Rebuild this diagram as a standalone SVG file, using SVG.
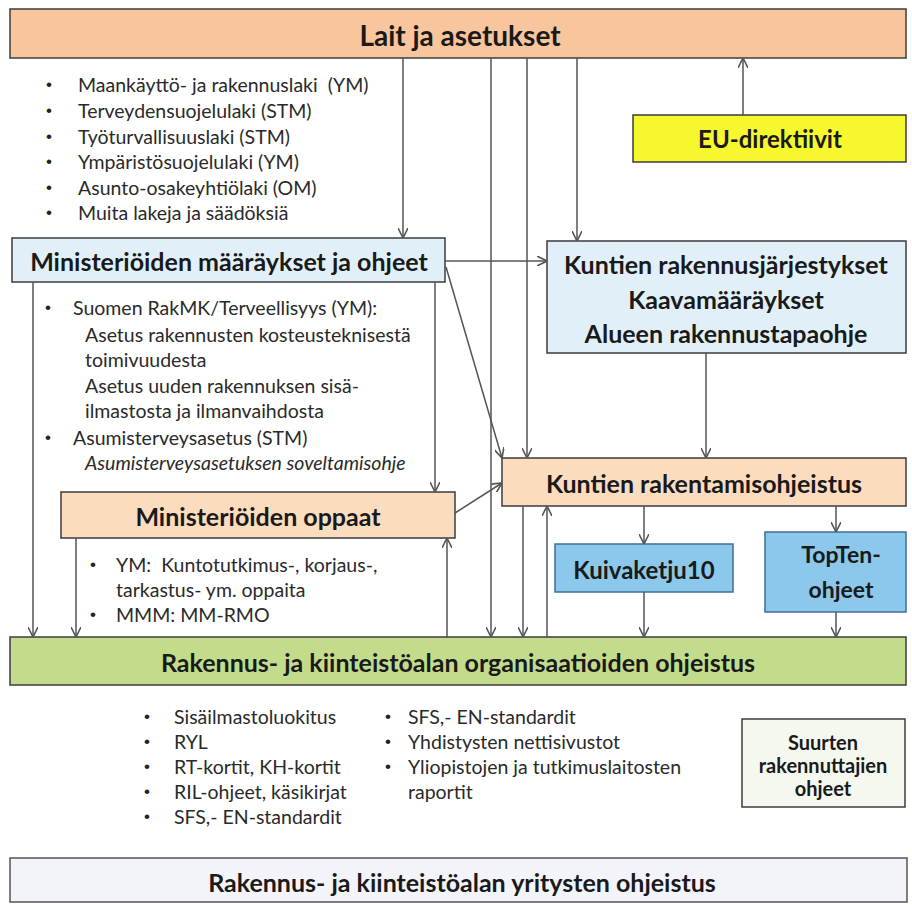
<svg xmlns="http://www.w3.org/2000/svg" width="912" height="905" viewBox="0 0 912 905">
<defs>
<marker id="arr" viewBox="0 0 10 10" refX="10" refY="5" markerWidth="10" markerHeight="10" markerUnits="userSpaceOnUse" orient="auto">
<path d="M0,0 L10,5 L0,10" fill="none" stroke="#555" stroke-width="1.6"/>
</marker>
<style>
.box{stroke:#3c3c3c;stroke-width:1.5}
.h{font-family:Lato,"Liberation Sans",sans-serif;font-weight:bold;fill:#1a1a1a;text-anchor:middle;dominant-baseline:central}
.t{font-family:Lato,"Liberation Sans",sans-serif;font-size:19.5px;fill:#2a2a2a;dominant-baseline:central}
.b{font-family:"Liberation Sans",sans-serif;font-size:17px;fill:#222;dominant-baseline:central}
.c{fill:none;stroke:#555;stroke-width:1.5;marker-end:url(#arr)}
</style>
</defs>
<rect width="912" height="905" fill="#ffffff"/>

<g id="lait">
<rect class="box" x="10" y="9" width="896" height="49" fill="#f9c59c"/>
<text class="h" x="460" y="35" font-size="28">Lait ja asetukset</text>
</g>
<g id="lait-list">
<text class="b" x="46" y="84">•</text><text class="t" x="78" y="84">Maankäyttö- ja rakennuslaki&#160; (YM)</text>
<text class="b" x="46" y="110">•</text><text class="t" x="78" y="110">Terveydensuojelulaki (STM)</text>
<text class="b" x="46" y="136">•</text><text class="t" x="78" y="136">Työturvallisuuslaki (STM)</text>
<text class="b" x="46" y="161">•</text><text class="t" x="78" y="161">Ympäristösuojelulaki (YM)</text>
<text class="b" x="46" y="187">•</text><text class="t" x="78" y="187">Asunto-osakeyhtiölaki (OM)</text>
<text class="b" x="46" y="212">•</text><text class="t" x="78" y="212">Muita lakeja ja säädöksiä</text>
</g>

<g id="eu">
<rect class="box" x="633" y="115" width="273" height="47" fill="#f7f72e"/>
<text class="h" x="770" y="138" font-size="24">EU-direktiivit</text>
</g>

<g id="ministeriot">
<rect class="box" x="12" y="238" width="433" height="44" fill="#e1f0f8"/>
<text class="h" x="229" y="261" font-size="25">Ministeriöiden määräykset ja ohjeet</text>
</g>
<g id="ministeriot-list">
<text class="b" x="45" y="307">•</text><text class="t" x="73" y="307">Suomen RakMK/Terveellisyys (YM):</text>
<text class="t" x="85" y="334">Asetus rakennusten kosteusteknisestä</text>
<text class="t" x="85" y="359">toimivuudesta</text>
<text class="t" x="85" y="385">Asetus uuden rakennuksen sisä-</text>
<text class="t" x="85" y="410">ilmastosta ja ilmanvaihdosta</text>
<text class="b" x="45" y="437">•</text><text class="t" x="73" y="437">Asumisterveysasetus (STM)</text>
<text class="t" x="85" y="462" font-style="italic">Asumisterveysasetuksen soveltamisohje</text>
</g>

<g id="kuntien-jarjestykset">
<rect class="box" x="547" y="241" width="359" height="112" fill="#e1f0f8"/>
<text class="h" x="726" y="264" font-size="25">Kuntien rakennusjärjestykset</text>
<text class="h" x="726" y="299" font-size="25">Kaavamääräykset</text>
<text class="h" x="726" y="333" font-size="25">Alueen rakennustapaohje</text>
</g>

<g id="kuntien-ohjeistus">
<rect class="box" x="502" y="458" width="404" height="48" fill="#fcdcbe"/>
<text class="h" x="704" y="483" font-size="25">Kuntien rakentamisohjeistus</text>
</g>

<g id="oppaat">
<rect class="box" x="61" y="492" width="394" height="46" fill="#fcdcbe"/>
<text class="h" x="258" y="516" font-size="25">Ministeriöiden oppaat</text>
</g>
<g id="oppaat-list">
<text class="b" x="90" y="564">•</text><text class="t" x="116" y="564">YM:&#160; Kuntotutkimus-, korjaus-,</text>
<text class="t" x="116" y="589">tarkastus- ym. oppaita</text>
<text class="b" x="90" y="614">•</text><text class="t" x="116" y="614">MMM: MM-RMO</text>
</g>

<g id="kuivaketju">
<rect x="555" y="544" width="178" height="48" fill="#8cc8eb" stroke="#3f6f94" stroke-width="1.5"/>
<text class="h" x="644" y="569" font-size="24">Kuivaketju10</text>
</g>

<g id="topten">
<rect x="765" y="532" width="141" height="80" fill="#8cc8eb" stroke="#3f6f94" stroke-width="1.5"/>
<text class="h" x="841" y="554" font-size="23">TopTen-</text>
<text class="h" x="841" y="589" font-size="23">ohjeet</text>
</g>

<g id="organisaatiot">
<rect class="box" x="10" y="637" width="896" height="48" fill="#c3dc8c"/>
<text class="h" x="458" y="662" font-size="25">Rakennus- ja kiinteistöalan organisaatioiden ohjeistus</text>
</g>
<g id="organisaatiot-list">
<text class="b" x="144" y="716">•</text><text class="t" x="174" y="716">Sisäilmastoluokitus</text>
<text class="b" x="144" y="741">•</text><text class="t" x="174" y="741">RYL</text>
<text class="b" x="144" y="766">•</text><text class="t" x="174" y="766">RT-kortit, KH-kortit</text>
<text class="b" x="144" y="791">•</text><text class="t" x="174" y="791">RIL-ohjeet, käsikirjat</text>
<text class="b" x="144" y="816">•</text><text class="t" x="174" y="816">SFS,- EN-standardit</text>
<text class="b" x="385" y="716">•</text><text class="t" x="408" y="716">SFS,- EN-standardit</text>
<text class="b" x="385" y="741">•</text><text class="t" x="408" y="741">Yhdistysten nettisivustot</text>
<text class="b" x="385" y="766">•</text><text class="t" x="408" y="766">Yliopistojen ja tutkimuslaitosten</text>
<text class="t" x="408" y="791">raportit</text>
</g>

<g id="suurten">
<rect x="742" y="719" width="163" height="88" fill="#f5f8ef" stroke="#3c3c3c" stroke-width="1.5"/>
<text class="h" x="823" y="742" font-size="20">Suurten</text>
<text class="h" x="823" y="765" font-size="20">rakennuttajien</text>
<text class="h" x="823" y="788" font-size="20">ohjeet</text>
</g>

<g id="yritykset">
<rect x="10" y="858" width="897" height="44" fill="#f3f3fa" stroke="#555" stroke-width="1.5"/>
<text class="h" x="462" y="882" font-size="25">Rakennus- ja kiinteistöalan yritysten ohjeistus</text>
</g>

<g id="connectors">
<line class="c" x1="403" y1="58" x2="403" y2="238"/>
<line class="c" x1="491" y1="58" x2="491" y2="637"/>
<line class="c" x1="527" y1="58" x2="527" y2="458"/>
<line class="c" x1="577" y1="58" x2="577" y2="241"/>
<line class="c" x1="743" y1="115" x2="743" y2="58"/>
<line class="c" x1="445" y1="261" x2="547" y2="261"/>
<line class="c" x1="33" y1="282" x2="33" y2="637"/>
<line class="c" x1="435" y1="282" x2="435" y2="492"/>
<line class="c" x1="446" y1="267" x2="502" y2="458"/>
<line class="c" x1="706" y1="353" x2="706" y2="458"/>
<line class="c" x1="455" y1="513" x2="502" y2="483"/>
<line class="c" x1="76" y1="538" x2="76" y2="637"/>
<line class="c" x1="447" y1="637" x2="447" y2="538"/>
<line class="c" x1="523" y1="506" x2="523" y2="637"/>
<line class="c" x1="547" y1="637" x2="547" y2="506"/>
<line class="c" x1="644" y1="506" x2="644" y2="544"/>
<line class="c" x1="644" y1="592" x2="644" y2="637"/>
<line class="c" x1="836" y1="506" x2="836" y2="532"/>
<line class="c" x1="836" y1="612" x2="836" y2="637"/>
</g>
</svg>
